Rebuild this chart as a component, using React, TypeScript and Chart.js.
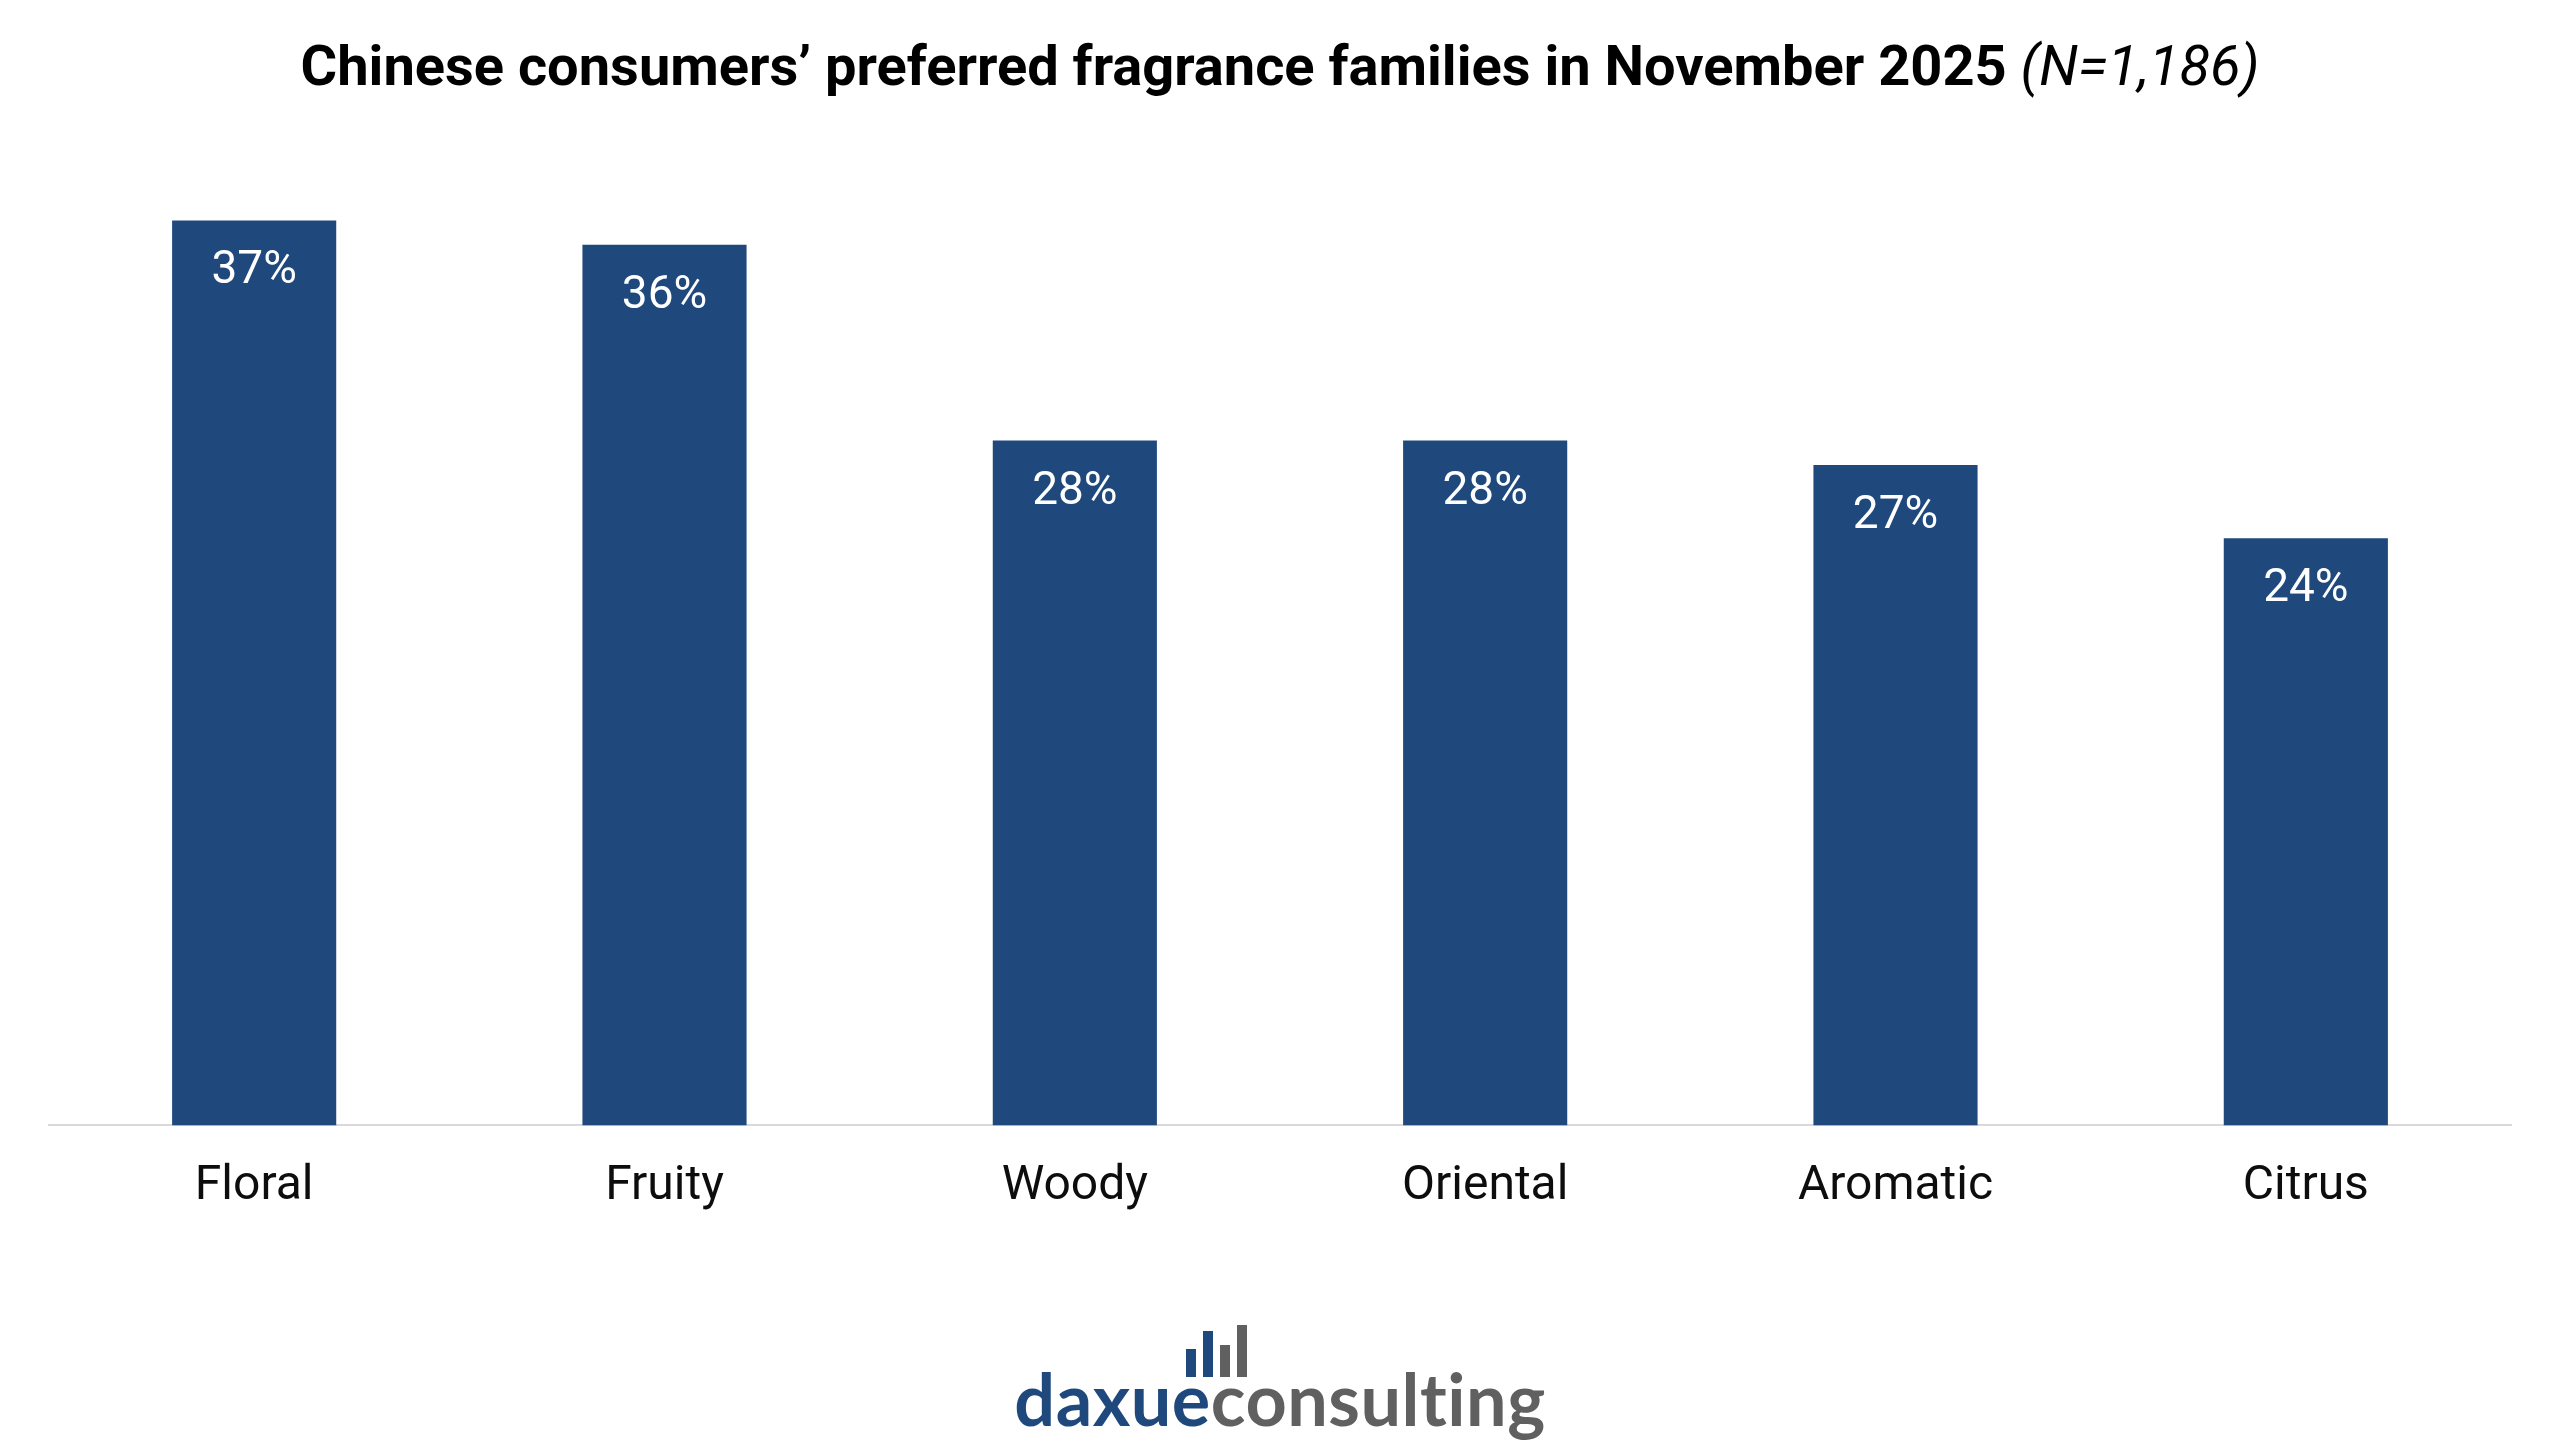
import { useEffect, useRef } from "react";
import Chart, { ChartConfiguration, Plugin } from "chart.js/auto";

const categories = ["Floral", "Fruity", "Woody", "Oriental", "Aromatic", "Citrus"];
const shares = [37, 36, 28, 28, 27, 24];
const yMax = 40;

const barColor = "#1f497d";

const valueLabels: Plugin<"bar"> = {
  id: "valueLabels",
  afterDatasetsDraw(chart) {
    const { ctx } = chart;
    const meta = chart.getDatasetMeta(0);
    ctx.save();
    ctx.font = "46px Roboto";
    ctx.fillStyle = "#ffffff";
    ctx.textAlign = "center";
    ctx.textBaseline = "alphabetic";
    meta.data.forEach((bar, i) => {
      const { x, y } = bar.getProps(["x", "y"], true) as { x: number; y: number };
      ctx.fillText(`${shares[i]}%`, x, y + 63);
    });
    ctx.restore();
  },
};

function FragranceChart() {
  const canvasRef = useRef<HTMLCanvasElement>(null);
  const chartRef = useRef<Chart<"bar", number[], string> | null>(null);

  useEffect(() => {
    if (!canvasRef.current) return;
    const config: ChartConfiguration<"bar", number[], string> = {
      type: "bar",
      data: {
        labels: categories,
        datasets: [
          {
            data: shares,
            backgroundColor: barColor,
            categoryPercentage: 1,
            barPercentage: 0.4,
          },
        ],
      },
      options: {
        responsive: false,
        animation: false,
        devicePixelRatio: 1,
        layout: { padding: { left: 49, right: 49, top: 147, bottom: 203 } },
        scales: {
          y: { display: false, min: 0, max: yMax },
          x: {
            grid: { display: false },
            border: { color: "#d9d9d9", width: 2 },
            ticks: {
              color: "#0d0d0d",
              padding: 25,
              font: { family: "Roboto", size: 48 },
            },
          },
        },
        plugins: {
          legend: { display: false },
          tooltip: { enabled: false },
        },
      },
      plugins: [valueLabels],
    };
    chartRef.current = new Chart(canvasRef.current, config);
    return () => {
      chartRef.current?.destroy();
      chartRef.current = null;
    };
  }, []);

  return <canvas ref={canvasRef} width={2560} height={1444} style={{ width: 2560, height: 1444, display: "block" }} />;
}

export default function App() {
  useEffect(() => {
    document.body.style.margin = "0";
  }, []);

  const iconBars = [
    { left: 1186, top: 1349, color: "#1f497d" },
    { left: 1203, top: 1331, color: "#1f497d" },
    { left: 1220, top: 1345, color: "#606060" },
    { left: 1237, top: 1325, color: "#606060" },
  ];

  return (
    <div style={{ position: "absolute", left: 0, top: 0, width: 2560, height: 1444, background: "#fff", overflow: "hidden" }}>
      <FragranceChart />
      <div
        style={{
          position: "absolute",
          left: 0,
          top: 38,
          width: 2560,
          textAlign: "center",
          fontFamily: "Roboto",
          fontSize: 56,
          lineHeight: "56px",
          color: "#000",
          fontWeight: 700,
        }}
      >
        Chinese consumers’ preferred fragrance families in November 2025{" "}
        <span style={{ fontStyle: "italic", fontWeight: 400 }}>(N=1,186)</span>
      </div>
      {iconBars.map((b, i) => (
        <div
          key={i}
          style={{ position: "absolute", left: b.left, top: b.top, width: 10, height: 1377 - b.top, background: b.color }}
        />
      ))}
      <div
        style={{
          position: "absolute",
          left: 0,
          top: 1362,
          width: 2560,
          textAlign: "center",
          fontFamily: "Lato",
          fontWeight: 700,
          fontSize: 72,
          lineHeight: "72px",
          letterSpacing: 0.5,
        }}
      >
        <span style={{ color: "#1f497d" }}>daxue</span>
        <span style={{ color: "#606060" }}>consulting</span>
      </div>
    </div>
  );
}
